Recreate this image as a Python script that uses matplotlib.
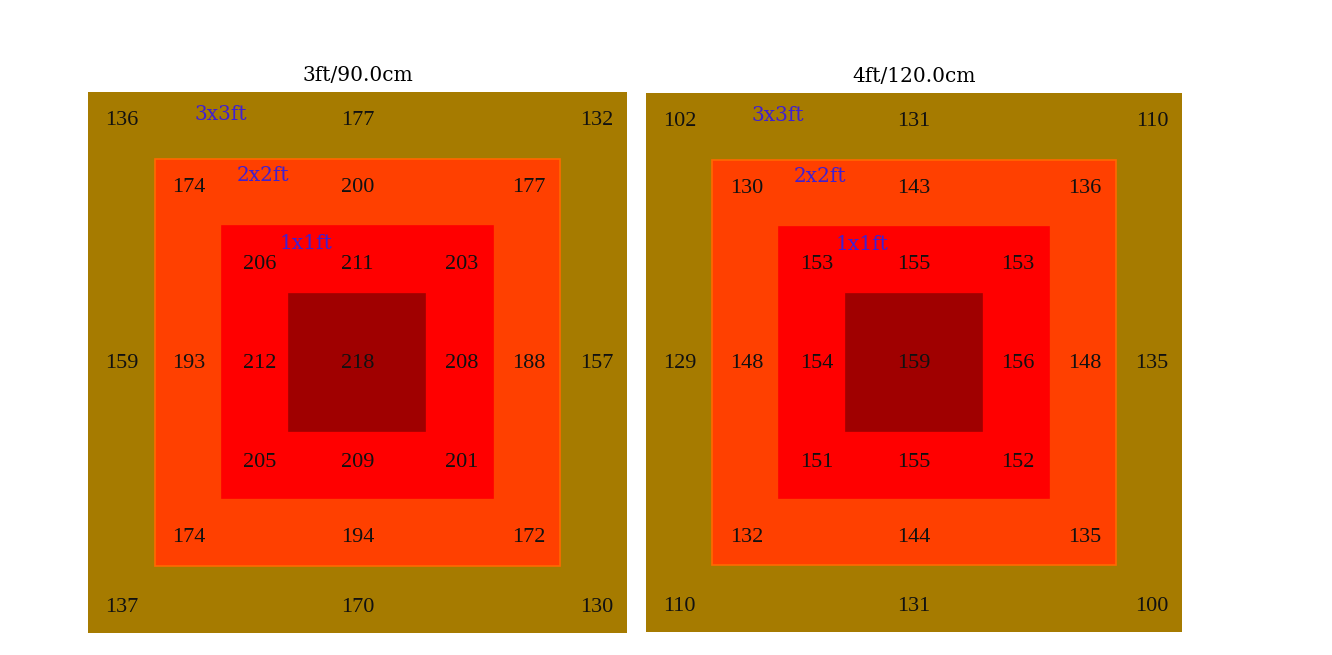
import matplotlib
matplotlib.use("Agg")
from matplotlib import pyplot as plt
from matplotlib.patches import Rectangle

# %%
titles = ["3ft/90.0cm", "4ft/120.0cm"]
zone_labels = ["3x3ft", "2x2ft", "1x1ft"]

# readings per ring: TL, TC, TR, ML, MR, BL, BC, BR
outer_3ft = [136, 177, 132, 159, 157, 137, 170, 130]
mid_3ft = [174, 200, 177, 193, 188, 174, 194, 172]
inner_3ft = [206, 211, 203, 212, 208, 205, 209, 201]
center_3ft = 218

outer_4ft = [102, 131, 110, 129, 135, 110, 131, 100]
mid_4ft = [130, 143, 136, 148, 148, 132, 144, 135]
inner_4ft = [153, 155, 153, 154, 156, 151, 155, 152]
center_4ft = 159

# %%
FONT = "Liberation Serif"
FONT2 = "DejaVu Serif"
RING_COLORS = ["#a67b00", "#ff4000", "#ff0000", "#a00000"]
EDGE_COLORS = ["#a67b00", "#ff6a00", "#ff0000", "#a00000"]
# x/y spots for the three columns / rows of each ring
RING_X = [(0.5, 4.0, 7.55), (1.5, 4.0, 6.55), (2.55, 4.0, 5.55)]
RING_Y = [(7.58, 3.98, 0.38), (6.58, 3.98, 1.41), (5.45, 3.98, 2.51)]
LABEL_POS = [(1.97, 7.66), (2.6, 6.76), (3.23, 5.75)]


def draw_panel(ax, title, rings, center):
    for i, c in enumerate(RING_COLORS):
        ax.add_patch(Rectangle((i - 0.01, i - 0.01), 8 - 2 * i + 0.02, 8 - 2 * i + 0.02,
                               facecolor=c, edgecolor=EDGE_COLORS[i], linewidth=1.2))
    for r, vals in enumerate(rings):
        xs, ys = RING_X[r], RING_Y[r]
        spots = [(xs[0], ys[0]), (xs[1], ys[0]), (xs[2], ys[0]),
                 (xs[0], ys[1]), (xs[2], ys[1]),
                 (xs[0], ys[2]), (xs[1], ys[2]), (xs[2], ys[2])]
        for (x, y), v in zip(spots, vals):
            ax.text(x, y, str(v), ha="center", va="center", fontsize=16,
                    family=FONT, color="#111111")
    ax.text(4.0, 3.98, str(center), ha="center", va="center", fontsize=16,
            family=FONT, color="#111111")
    for (x, y), lab in zip(LABEL_POS, zone_labels):
        ax.text(x, y, lab, ha="center", va="center", fontsize=14.5,
                family=FONT2, color="#4020d0")
    ax.set_xlim(0, 8)
    ax.set_ylim(0, 8)
    ax.set_title(title, fontsize=14.5, family=FONT2, pad=8)
    ax.axis("off")


# %%
fig = plt.figure(figsize=(13.32, 6.55), dpi=100)
ax1 = fig.add_axes([0.066, 0.034, 0.4047, 0.826])
ax2 = fig.add_axes([0.485, 0.035, 0.4024, 0.823])
draw_panel(ax1, titles[0], [outer_3ft, mid_3ft, inner_3ft], center_3ft)
draw_panel(ax2, titles[1], [outer_4ft, mid_4ft, inner_4ft], center_4ft)
plt.savefig("out.png", dpi=100)
